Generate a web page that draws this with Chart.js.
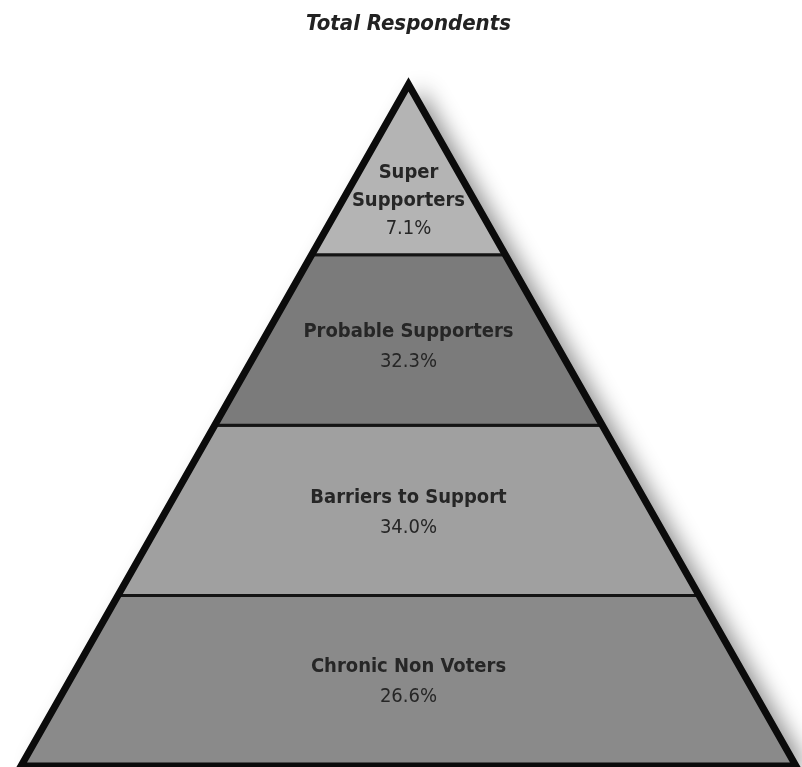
<!DOCTYPE html>
<html>
<head>
<meta charset="utf-8">
<script src="https://cdn.jsdelivr.net/npm/chart.js@4.4.1/dist/chart.umd.min.js"></script>
<style>
  html, body { margin: 0; padding: 0; background: #fff; }
  #wrap { width: 802px; height: 767px; }
</style>
</head>
<body>
<div id="wrap"><canvas id="pyramid"></canvas></div>
<script>
// bands listed from the top of the pyramid down
const bandNames = [['Super', 'Supporters'], ['Probable Supporters'], ['Barriers to Support'], ['Chronic Non Voters']];
const bandPercents = [7.1, 32.3, 34.0, 26.6];
const bandColors = ['#b4b4b4', '#7b7b7b', '#a0a0a0', '#8a8a8a'];

const levels = bandNames.length;
const halfWidth = y => 1 - y / levels;
const FONT = '"DejaVu Sans Condensed", "Liberation Sans Narrow", sans-serif';

function bandShape(i) {
    const top = levels - i, bottom = levels - i - 1;
    return [
        { x: -halfWidth(bottom), y: bottom },
        { x: halfWidth(bottom), y: bottom },
        { x: halfWidth(top), y: top },
        { x: -halfWidth(top), y: top },
        { x: -halfWidth(bottom), y: bottom }
    ];
}

// y of the centroid of each band, used to place its label
function bandCentroid(i) {
    const bottom = levels - i - 1;
    const a = halfWidth(bottom + 1), b = halfWidth(bottom);
    return bottom + (2 * a + b) / (3 * (a + b));
}

const outline = [
    { x: 0, y: 0 }, { x: 1, y: 0 }, { x: 0, y: levels }, { x: -1, y: 0 }, { x: 0, y: 0 }
];

const datasets = [{
    data: outline,
    borderColor: '#0b0b0b',
    borderWidth: 7,
    borderJoinStyle: 'miter',
    fill: false,
    pointRadius: 0,
    tension: 0,
    clip: false
}].concat(bandNames.map((n, i) => ({
    data: bandShape(i),
    borderColor: '#141414',
    backgroundColor: bandColors[i],
    borderWidth: 3,
    borderJoinStyle: 'miter',
    fill: 'shape',
    pointRadius: 0,
    tension: 0,
    clip: false
})));

const shadowPlugin = {
    id: 'shadow',
    beforeDatasetsDraw(chart) {
        const { ctx, scales: { x, y } } = chart;
        ctx.save();
        ctx.shadowColor = 'rgba(0,0,0,0.45)';
        ctx.shadowBlur = 22;
        ctx.shadowOffsetX = 12;
        ctx.shadowOffsetY = 4;
        ctx.fillStyle = '#888';
        ctx.beginPath();
        ctx.moveTo(x.getPixelForValue(-1), y.getPixelForValue(0));
        ctx.lineTo(x.getPixelForValue(1), y.getPixelForValue(0));
        ctx.lineTo(x.getPixelForValue(0), y.getPixelForValue(levels));
        ctx.closePath();
        ctx.fill();
        ctx.restore();
    }
};

const labelPlugin = {
    id: 'bandLabels',
    afterDatasetsDraw(chart) {
        const { ctx, scales: { x, y } } = chart;
        ctx.save();
        ctx.textAlign = 'center';
        ctx.textBaseline = 'middle';
        ctx.fillStyle = '#262626';
        bandNames.forEach((name, i) => {
            const lines = name.length + 1;
            const lineH = lines > 2 ? 28 : 30;
            const cx = x.getPixelForValue(0);
            const cy = y.getPixelForValue(bandCentroid(i)) + (i === 0 ? 3 : -3);
            let ty = cy - (lines - 1) * lineH / 2;
            ctx.font = 'bold 20px ' + FONT;
            name.forEach(t => { ctx.fillText(t, cx, ty); ty += lineH; });
            ctx.font = '20px ' + FONT;
            ctx.fillText(bandPercents[i].toFixed(1) + '%', cx, ty);
        });
        ctx.restore();
    }
};

new Chart(document.getElementById('pyramid'), {
    type: 'line',
    data: { datasets: datasets },
    options: {
        responsive: true,
        maintainAspectRatio: false,
        animation: false,
        layout: { padding: { left: 21, right: 6, top: 0, bottom: 1 } },
        scales: {
            x: { type: 'linear', min: -1, max: 1, display: false },
            y: { type: 'linear', min: 0, max: levels, display: false }
        },
        plugins: {
            legend: { display: false },
            tooltip: { enabled: false },
            title: {
                display: true,
                text: 'Total Respondents',
                color: '#222',
                font: { family: FONT, size: 22, weight: 'bold', style: 'italic', lineHeight: 1.2 },
                padding: { top: 11, bottom: 47 }
            }
        }
    },
    plugins: [shadowPlugin, labelPlugin]
});
</script>
</body>
</html>
